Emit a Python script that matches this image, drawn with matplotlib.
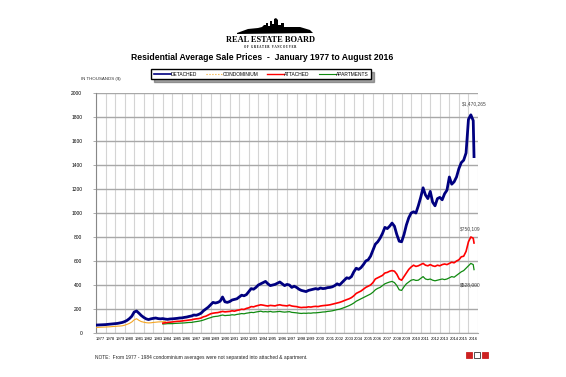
import numpy as np
import matplotlib.pyplot as plt
from matplotlib.lines import Line2D
from matplotlib.patches import Polygon, Rectangle

plt.rcParams['font.family'] = ['Liberation Sans', 'DejaVu Sans']

# quarterly averages (thousands $), Jan/Apr/Jul/Oct, last value = Aug 2016
detached = [
    66, 67, 68, 69,        # 1977
    70, 72, 74, 76,        # 1978
    78, 80, 84, 88,        # 1979
    95, 105, 120, 140,     # 1980
    175, 183, 165, 145,    # 1981
    130, 118, 112, 118,    # 1982
    122, 125, 120, 118,    # 1983
    120, 116, 114, 117,    # 1984
    118, 120, 122, 125,    # 1985
    126, 130, 133, 138,    # 1986
    142, 150, 148, 155,    # 1987
    165, 185, 200, 215,    # 1988
    235, 255, 250, 255,    # 1989
    265, 300, 260, 255,    # 1990
    262, 275, 280, 285,    # 1991
    300, 315, 310, 320,    # 1992
    345, 370, 365, 380,    # 1993
    400, 410, 420, 430,    # 1994
    410, 395, 400, 405,    # 1995
    415, 425, 410, 395,    # 1996
    405, 400, 380, 390,    # 1997
    380, 365, 355, 350,    # 1998
    345, 355, 360, 365,    # 1999
    370, 365, 375, 370,    # 2000
    372, 378, 380, 385,    # 2001
    395, 410, 400, 420,    # 2002
    440, 460, 455, 470,    # 2003
    510, 540, 530, 545,    # 2004
    570, 600, 610, 640,    # 2005
    690, 740, 760, 790,    # 2006
    830, 880, 870, 890,    # 2007
    916, 890, 820, 765,    # 2008
    760, 820, 900, 960,    # 2009
    1000, 1010, 1000, 1060,  # 2010
    1130, 1210, 1150, 1120,  # 2011
    1180, 1090, 1060, 1120,  # 2012
    1130, 1110, 1160, 1190,  # 2013
    1300, 1240, 1260, 1300,  # 2014
    1370, 1420, 1440, 1500,  # 2015
    1780, 1818, 1770, 1470,  # 2016 (Jan, Apr, Jul, Aug)
]

condominium = [
    46, 47, 48, 49,        # 1977
    50, 51, 52, 54,        # 1978
    55, 57, 58, 60,        # 1979
    65, 72, 80, 92,        # 1980
    110, 119, 105, 95,     # 1981
    90, 86, 84, 85,        # 1982
    88, 90, 92, 93,        # 1983
    94, 95,                # 1984
]

attached = [
    82, 85, 88, 90,        # 1984
    92, 95, 97, 98,        # 1985
    100, 103, 105, 108,    # 1986
    110, 115, 118, 120,    # 1987
    125, 135, 140, 150,    # 1988
    160, 165, 168, 170,    # 1989
    175, 180, 176, 178,    # 1990
    180, 185, 182, 188,    # 1991
    192, 198, 196, 205,    # 1992
    210, 220, 218, 225,    # 1993
    230, 235, 232, 228,    # 1994
    225, 230, 228, 226,    # 1995
    232, 235, 230, 228,    # 1996
    226, 232, 225, 222,    # 1997
    220, 215, 212, 214,    # 1998
    214, 218, 216, 220,    # 1999
    222, 220, 225, 228,    # 2000
    230, 232, 235, 240,    # 2001
    245, 250, 255, 262,    # 2002
    270, 278, 285, 295,    # 2003
    310, 330, 340, 350,    # 2004
    365, 380, 390, 400,    # 2005
    420, 450, 460, 470,    # 2006
    480, 500, 505, 515,    # 2007
    520, 515, 490, 450,    # 2008
    440, 470, 500, 530,    # 2009
    550, 565, 555, 560,    # 2010
    570, 580, 565, 560,    # 2011
    570, 560, 555, 565,    # 2012
    560, 570, 575, 570,    # 2013
    580, 590, 585, 600,    # 2014
    610, 635, 640, 680,    # 2015
    760, 800, 790, 750,    # 2016 (Jan, Apr, Jul, Aug)
]

apartments = [
    75, 76, 78, 78,        # 1984
    78, 80, 81, 82,        # 1985
    83, 84, 86, 88,        # 1986
    88, 92, 95, 98,        # 1987
    102, 108, 115, 122,    # 1988
    128, 135, 138, 140,    # 1989
    145, 150, 145, 147,    # 1990
    148, 152, 150, 155,    # 1991
    158, 162, 160, 165,    # 1992
    168, 172, 170, 175,    # 1993
    178, 182, 176, 178,    # 1994
    176, 180, 175, 176,    # 1995
    178, 180, 176, 174,    # 1996
    176, 178, 172, 170,    # 1997
    168, 165, 163, 165,    # 1998
    164, 166, 165, 168,    # 1999
    168, 170, 172, 175,    # 2000
    176, 180, 182, 185,    # 2001
    190, 195, 198, 205,    # 2002
    212, 220, 228, 238,    # 2003
    250, 265, 275, 285,    # 2004
    295, 305, 315, 325,    # 2005
    340, 360, 372, 380,    # 2006
    395, 410, 418, 425,    # 2007
    430, 420, 395, 360,    # 2008
    355, 385, 410, 425,    # 2009
    440, 445, 438, 440,    # 2010
    455, 470, 450, 445,    # 2011
    450, 440, 435, 440,    # 2012
    445, 450, 445, 450,    # 2013
    460, 470, 465, 480,    # 2014
    495, 510, 520, 540,    # 2015
    560, 580, 570, 528,    # 2016 (Jan, Apr, Jul, Aug)
]

years = list(range(1977, 2017))
end_labels = ['$1,470,265', '$750,109', '$528,000']

# time axis: quarters from Jan 1977, final point is Aug 2016
quarters = 1977 + np.arange(len(detached) - 1) / 4
t_all = np.append(quarters, 2016 + 7 / 12)
t_det = t_all
t_condo = t_all[:len(condominium)]
t_att = t_all[-len(attached):]
t_apt = t_all[-len(apartments):]

fig = plt.figure(figsize=(5.66, 3.77), dpi=100)
ax = fig.add_axes([96 / 566, 44 / 377, 382 / 566, 240 / 377])

ax.plot(t_condo, condominium, color='#f5a623', lw=0.8, zorder=3)
ax.plot(t_apt, apartments, color='#108a10', lw=0.9, zorder=4)
ax.plot(t_att, attached, color='#ff0000', lw=1.2, zorder=5)
ax.plot(t_det, detached, color='#000080', lw=2.0, zorder=6)

ax.set_xlim(1977, 2017)
ax.set_ylim(0, 2000)
ax.set_yticks(range(0, 2001, 200))
ax.set_xticks(range(1977, 2018))
ax.set_xticklabels([])
ax.set_xticks(np.array(years) + 0.5, minor=True)
ax.set_xticklabels([str(y) for y in years], minor=True)
ax.tick_params(axis='x', which='both', length=0, labelsize=3, pad=3)
ax.tick_params(axis='y', length=2, width=0.5, color='#888888', labelsize=3.5, pad=8)
ax.grid(True, axis='y', color='#a8a8a8', lw=1.0)
ax.grid(True, axis='x', which='major', color='#d4d4d4', lw=0.8)
ax.set_axisbelow(True)
for s in ['top', 'right']:
    ax.spines[s].set_visible(False)
ax.spines['left'].set_color('#888888')
ax.spines['bottom'].set_color('#a8a8a8')
ax.spines['left'].set_linewidth(0.8)

# end-of-series value labels
ax.annotate(end_labels[0], xy=(t_det[-1], max(detached)), xytext=(0, 7),
            textcoords='offset points', ha='center', fontsize=3.5, color='#444444')
ax.annotate(end_labels[1], xy=(t_att[-1], max(attached)), xytext=(-3, 5),
            textcoords='offset points', ha='center', fontsize=3.5, color='#444444')
ax.annotate(end_labels[2], xy=(t_apt[-1], apartments[-1]), xytext=(-3, -12),
            textcoords='offset points', ha='center', fontsize=3.5, color='#444444')

# legend
handles = [
    Line2D([], [], color='#000080', lw=1.2),
    Line2D([], [], color='#f5a623', lw=0.8, ls=':'),
    Line2D([], [], color='#ff0000', lw=1.0),
    Line2D([], [], color='#108a10', lw=0.8),
]
fig.legend(handles, ['DETACHED', 'CONDOMINIUM', 'ATTACHED', 'APARTMENTS'],
           loc='center', bbox_to_anchor=(261 / 566, 1 - 74 / 377), ncol=4,
           fontsize=3.5, frameon=True, fancybox=False, shadow=True,
           edgecolor='black', handlelength=3.5, columnspacing=1.8, handletextpad=0,
           borderpad=0.5)

fig.text(81 / 566, 1 - 79 / 377, 'IN THOUSANDS ($)', fontsize=3.2, color='#333333', va='center')

fig.text(0.463, 1 - 57 / 377, 'Residential Average Sale Prices  -  January 1977 to August 2016',
         ha='center', va='center', fontsize=6.2, fontweight='bold')

# board logo
fig.text(270 / 566, 1 - 40 / 377, 'REAL ESTATE BOARD', ha='center', va='center',
         fontsize=6, fontweight='bold', family='Liberation Serif')
fig.text(270 / 566, 1 - 46.5 / 377, 'O F   G R E A T E R   V A N C O U V E R', ha='center',
         va='center', fontsize=2.2, fontweight='bold', family='Liberation Serif')
sky = [(237, 33), (248, 29), (258, 28), (262, 27), (264, 25), (266, 25), (266, 23), (268, 23),
       (268, 26), (270, 26), (270, 21), (272, 21), (272, 24), (274, 24), (274, 19), (276, 18),
       (278, 20), (278, 25), (281, 25), (281, 23), (284, 23), (284, 27), (300, 27), (310, 30),
       (313, 33), (237, 34)]
fig.patches.append(Polygon([(x / 566, 1 - y / 377) for x, y in sky], closed=True,
                           transform=fig.transFigure, facecolor='black', edgecolor='none'))

fig.text(95 / 566, 1 - 357 / 377,
         'NOTE:  From 1977 - 1984 condominium averages were not separated into attached & apartment.',
         fontsize=3.5, va='center', color='#222222')

# small MLS style marks bottom right
for i, c in enumerate(['#cc2222', '#333333', '#cc2222']):
    fig.patches.append(Rectangle(((466 + i * 8) / 566, 1 - 358 / 377), 6 / 566, 6 / 377,
                                 transform=fig.transFigure, facecolor=c if c != '#333333' else 'white',
                                 edgecolor=c, lw=0.6))

fig.savefig('out.png', dpi=100)
